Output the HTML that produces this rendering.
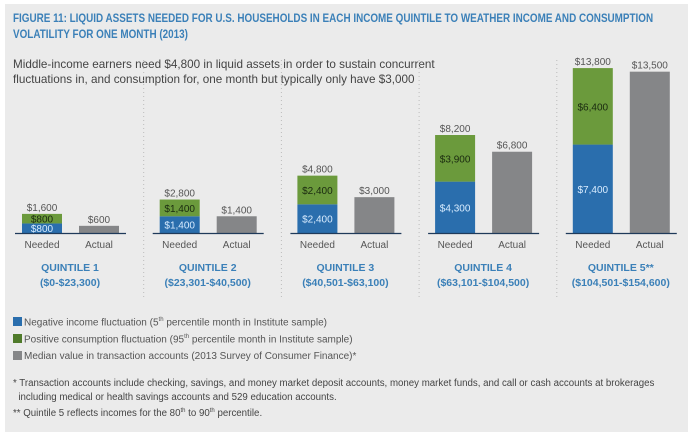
<!DOCTYPE html>
<html><head><meta charset="utf-8"><style>
body{margin:0;width:695px;height:436px;background:#fff;font-family:"Liberation Sans",sans-serif;overflow:hidden}
#panel{position:absolute;left:5px;top:4px;width:683px;height:428px;background:#ebebeb}
.t{position:absolute;white-space:nowrap}
</style></head><body>
<div id="panel"></div>
<div class="t" style="left:13px;top:11px;font-size:11.5px;font-weight:bold;color:#3b80b8;line-height:16px;transform:scaleX(0.86);transform-origin:0 0">FIGURE 11: LIQUID ASSETS NEEDED FOR U.S. HOUSEHOLDS IN EACH INCOME QUINTILE TO WEATHER INCOME AND CONSUMPTION<br>VOLATILITY FOR ONE MONTH (2013)</div>
<div class="t" style="left:13px;top:57px;font-size:11.7px;color:#444;line-height:15px">Middle-income earners need $4,800 in liquid assets in order to sustain concurrent<br>fluctuations in, and consumption for, one month but typically only have $3,000</div>
<svg id="chart" width="695" height="436" style="position:absolute;left:0;top:0"></svg>
<div>
<div class="t" style="left:13px;top:317px;font-size:10px;color:#555"><span style="display:inline-block;width:9px;height:9px;background:#2a6ead;vertical-align:-1px;margin-right:2px"></span>Negative income fluctuation (5<sup style="font-size:6px">th</sup> percentile month in Institute sample)</div>
<div class="t" style="left:13px;top:334px;font-size:10px;color:#555"><span style="display:inline-block;width:9px;height:9px;background:#4f7a2a;vertical-align:-1px;margin-right:2px"></span>Positive consumption fluctuation (95<sup style="font-size:6px">th</sup> percentile month in Institute sample)</div>
<div class="t" style="left:13px;top:351px;font-size:10px;color:#555"><span style="display:inline-block;width:9px;height:9px;background:#858688;vertical-align:-1px;margin-right:2px"></span>Median value in transaction accounts (2013 Survey of Consumer Finance)*</div>
</div>
<div class="t" style="left:13px;top:377px;font-size:9.7px;color:#444;line-height:14px">* Transaction accounts include checking, savings, and money market deposit accounts, money market funds, and call or cash accounts at brokerages<br>&nbsp;&nbsp;including medical or health savings accounts and 529 education accounts.</div>
<div class="t" style="left:13px;top:408px;font-size:9.7px;color:#444">** Quintile 5 reflects incomes for the 80<sup style="font-size:6px">th</sup> to 90<sup style="font-size:6px">th</sup> percentile.</div>
<script>
const quintiles=["QUINTILE 1","QUINTILE 2","QUINTILE 3","QUINTILE 4","QUINTILE 5**"];
const ranges=["($0-$23,300)","($23,301-$40,500)","($40,501-$63,100)","($63,101-$104,500)","($104,501-$154,600)"];
const income=[800,1400,2400,4300,7400];
const consumption=[800,1400,2400,3900,6400];
const actual=[600,1400,3000,6800,13500];
const svg=document.getElementById('chart');
const NS='http://www.w3.org/2000/svg';
const base=233, scale=0.01195;
function y(v){return base-v*scale;}
function gx(i){return 22+i*137.7;}
function fmt(v){return '$'+v.toLocaleString('en-US');}
function mk(tag,attrs,txt){const e=document.createElementNS(NS,tag);for(const k in attrs)e.setAttribute(k,attrs[k]);if(txt!==undefined)e.textContent=txt;svg.appendChild(e);return e;}
for(let i=0;i<5;i++){
  const x=gx(i);
  if(i>0){const s=mk('line',{x1:x-16,x2:x-16,y1:60,y2:300,stroke:'#bbb','stroke-dasharray':'1,3'});
    
    }
  const tot=income[i]+consumption[i];
  const b1=mk('rect',{x:x,y:y(income[i]),width:40,height:base-y(income[i]),fill:'#2a6ead'});
  
  
  const b2=mk('rect',{x:x,y:y(tot),width:40,height:y(income[i])-y(tot),fill:'#6b9a3c'});
  
  
  const b3=mk('rect',{x:x+57,y:y(actual[i]),width:40,height:base-y(actual[i]),fill:'#858688'});
  
  
  const ax=mk('line',{x1:x-7,x2:x+104,y1:base+0.5,y2:base+0.5,stroke:'#1f3a5a','stroke-width':1.2});
  
  
  const fs=10;
  const t1=mk('text',{x:x+20,y:y(income[i]/2)+4,'text-anchor':'middle','font-size':fs,fill:'#d8ecff'},fmt(income[i]));
  
  
  const t2=mk('text',{x:x+20,y:y(income[i]+consumption[i]/2)+4,'text-anchor':'middle','font-size':fs,fill:'#1a2a10'},fmt(consumption[i]));
  
  
  const t3=mk('text',{x:x+20,y:y(tot)-3,'text-anchor':'middle','font-size':fs,fill:'#555'},fmt(tot));
  
  
  const t4=mk('text',{x:x+77,y:y(actual[i])-3,'text-anchor':'middle','font-size':fs,fill:'#555'},fmt(actual[i]));
  
  
  const n=mk('text',{x:x+20,y:248,'text-anchor':'middle','font-size':10,fill:'#555'},'Needed');
  
  
  const a=mk('text',{x:x+77,y:248,'text-anchor':'middle','font-size':10,fill:'#555'},'Actual');
  
  
  const q=mk('text',{x:x+48,y:271,'text-anchor':'middle','font-size':10.5,'font-weight':'bold',fill:'#3b80b8'},quintiles[i]);
  
  
  const r=mk('text',{x:x+48,y:286,'text-anchor':'middle','font-size':10.5,'font-weight':'bold',fill:'#3b80b8'},ranges[i]);
  
  
}
</script>
</body></html>
